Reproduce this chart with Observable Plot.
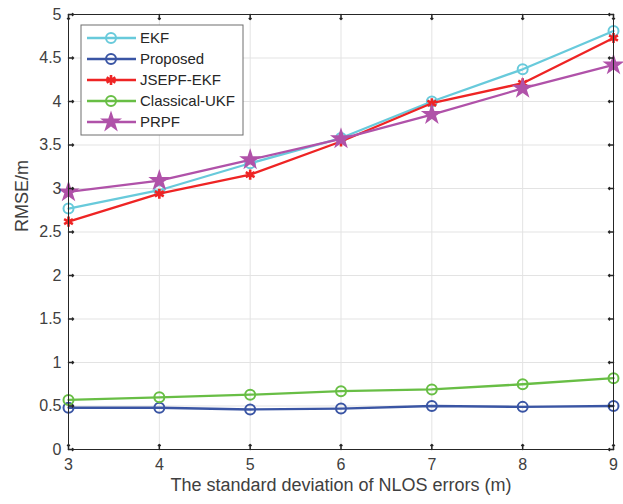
<!DOCTYPE html>
<html>
<head>
<meta charset="utf-8">
<script src="https://cdn.jsdelivr.net/npm/d3@7"></script>
<script src="https://cdn.jsdelivr.net/npm/@observablehq/plot@0.6"></script>
<style>
  body { margin: 0; background: #fff; }
  #chart { position: relative; width: 623px; height: 504px; }
</style>
</head>
<body>
<div id="chart"></div>
<script>
// Standard deviation of the NLOS errors (m)
const sigma = [3, 4, 5, 6, 7, 8, 9];

// RMSE (m) of each method
const ekf      = [2.77, 2.98, 3.29, 3.58, 4.00, 4.37, 4.81];
const proposed = [0.48, 0.48, 0.46, 0.47, 0.50, 0.49, 0.50];
const jsepf    = [2.62, 2.94, 3.16, 3.54, 3.98, 4.21, 4.73];
const ukf      = [0.57, 0.60, 0.63, 0.67, 0.69, 0.75, 0.82];
const prpf     = [2.96, 3.09, 3.33, 3.57, 3.85, 4.15, 4.42];

const methods = ["EKF", "Proposed", "JSEPF-EKF", "Classical-UKF", "PRPF"];
const values  = [ekf, proposed, jsepf, ukf, prpf];

const xTicks = [3, 4, 5, 6, 7, 8, 9];
const yTicks = [0, 0.5, 1, 1.5, 2, 2.5, 3, 3.5, 4, 4.5, 5];
const xLabel = "The standard deviation of NLOS errors (m)";
const yLabel = "RMSE/m";

// Line colour and marker for each method
const styles = {
  "EKF":           {color: "#68CADB", symbol: "circle",   r: 5,   fill: "none"},
  "Proposed":      {color: "#3A55A4", symbol: "circle",   r: 5,   fill: "none"},
  "JSEPF-EKF":     {color: "#EE2424", symbol: "asterisk", r: 4.8, fill: "none"},
  "Classical-UKF": {color: "#68BE45", symbol: "circle",   r: 5,   fill: "none"},
  "PRPF":          {color: "#B052A9", symbol: "star",     r: 5,   fill: "#B052A9"}
};

const rows = methods.map((m, k) => sigma.map((s, i) => ({method: m, sigma: s, rmse: values[k][i]})));

const font = "'Liberation Sans', Arial, sans-serif";
const axisColor = "#262626";
const labelColor = "#404040";
const fmt = d => String(d);

const seriesMarks = rows.flatMap((data, k) => {
  const st = styles[methods[k]];
  return [
    Plot.line(data, {x: "sigma", y: "rmse", stroke: st.color, strokeWidth: 2.3}),
    Plot.dot(data, {x: "sigma", y: "rmse", symbol: () => st.symbol, r: st.r,
      stroke: st.color, fill: st.fill, strokeWidth: st.symbol === "asterisk" ? 2.6 : 2})
  ];
});

const chart = Plot.plot({
  width: 623,
  height: 504,
  marginLeft: 68,
  marginRight: 10,
  marginTop: 14,
  marginBottom: 55,
  style: {fontFamily: font, fontSize: "16px", background: "#fff", color: labelColor},
  symbol: {type: "identity"},
  x: {domain: [3, 9], label: null},
  y: {domain: [0, 5], label: null},
  marks: [
    Plot.gridX(xTicks, {stroke: "#e3e3e3", strokeOpacity: 1}),
    Plot.gridY(yTicks, {stroke: "#e3e3e3", strokeOpacity: 1}),
    ...seriesMarks,
    Plot.frame({stroke: axisColor, strokeWidth: 1}),
    // inward ticks on all four sides of the box
    Plot.vector(xTicks, {x: d => d, frameAnchor: "bottom", rotate: 0, length: 5, anchor: "start", stroke: axisColor}),
    Plot.vector(xTicks, {x: d => d, frameAnchor: "top", rotate: 180, length: 5, anchor: "start", stroke: axisColor}),
    Plot.vector(yTicks, {y: d => d, frameAnchor: "left", rotate: 90, length: 5, anchor: "start", stroke: axisColor}),
    Plot.vector(yTicks, {y: d => d, frameAnchor: "right", rotate: -90, length: 5, anchor: "start", stroke: axisColor}),
    Plot.axisX(xTicks, {tickSize: 0, tickPadding: 9, tickFormat: fmt, fill: labelColor, fontSize: 16, label: null}),
    Plot.axisY(yTicks, {tickSize: 0, tickPadding: 7, tickFormat: fmt, fill: labelColor, fontSize: 16, label: null}),
    Plot.text([xLabel], {frameAnchor: "bottom", dy: 41, fill: labelColor, fontSize: 18}),
    Plot.text([yLabel], {frameAnchor: "left", rotate: -90, dx: -46, fill: labelColor, fontSize: 18})
  ]
});

document.getElementById("chart").appendChild(chart);

// Legend box in the upper-left corner of the axes
const svg = d3.select(chart);
const lg = svg.append("g").attr("transform", "translate(81,25)")
  .style("font-family", font).style("font-size", "15px");
lg.append("rect").attr("width", 162).attr("height", 110)
  .attr("fill", "#fff").attr("stroke", "#6e6e6e").attr("stroke-width", 1);
const symbolMap = {circle: d3.symbolCircle, asterisk: d3.symbolAsterisk, star: d3.symbolStar};
methods.forEach((m, i) => {
  const st = styles[m];
  const y = 13 + i * 21;
  const row = lg.append("g").attr("transform", `translate(0,${y})`);
  row.append("line").attr("x1", 6).attr("x2", 55).attr("stroke", st.color).attr("stroke-width", 2.3);
  row.append("path").attr("transform", "translate(30,0)")
    .attr("d", d3.symbol(symbolMap[st.symbol], Math.PI * st.r * st.r)())
    .attr("fill", st.fill).attr("stroke", st.color)
    .attr("stroke-width", st.symbol === "asterisk" ? 2.6 : 2);
  row.append("text").attr("x", 59).attr("dy", "0.36em")
    .attr("text-anchor", "start").attr("fill", axisColor).text(m);
});
</script>
</body>
</html>
